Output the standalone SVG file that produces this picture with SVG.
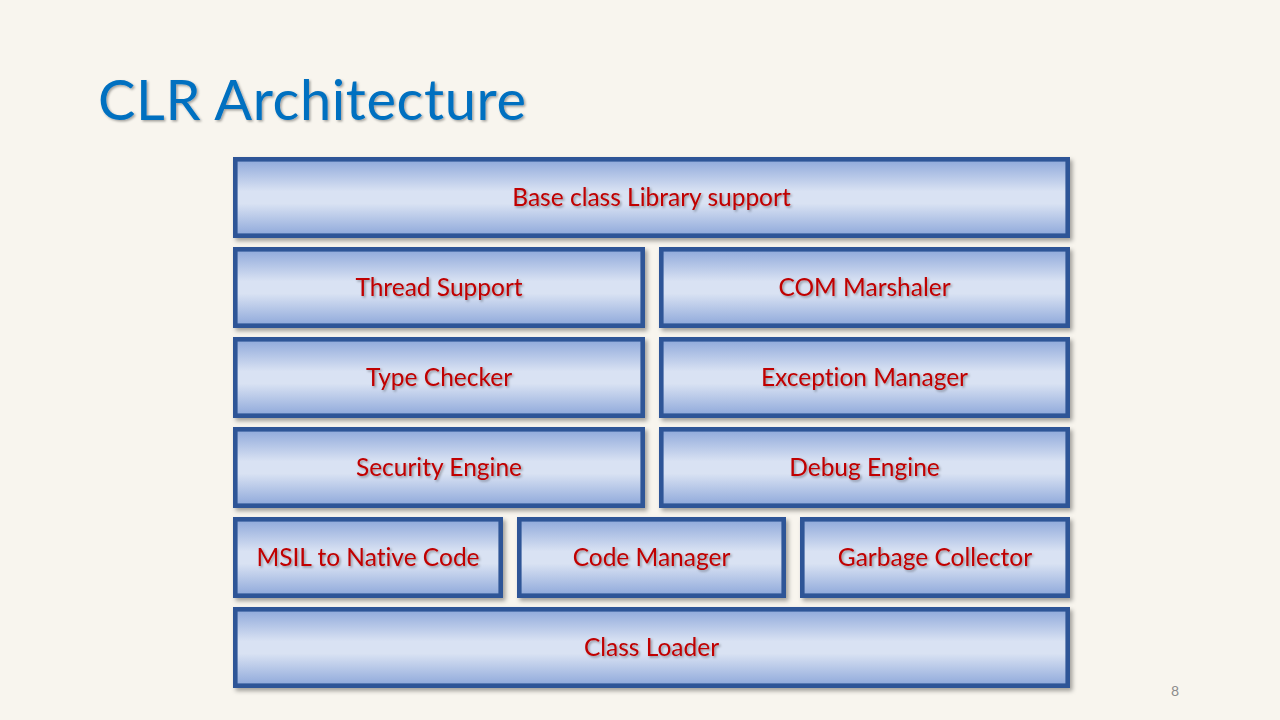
<svg xmlns="http://www.w3.org/2000/svg" width="1280" height="720" viewBox="0 0 1280 720">
<defs>
<linearGradient id="fill" x1="0" y1="0" x2="0" y2="1">
<stop offset="0" stop-color="#8EA8DA"/>
<stop offset="0.42" stop-color="#D9E2F3"/>
<stop offset="0.58" stop-color="#D9E2F3"/>
<stop offset="1" stop-color="#8EA8DA"/>
</linearGradient>
<filter id="sh" x="-5%" y="-10%" width="112%" height="130%">
<feDropShadow dx="2.5" dy="3" stdDeviation="2" flood-color="#000" flood-opacity="0.35"/>
</filter>
<filter id="tsh" x="-5%" y="-20%" width="115%" height="150%">
<feDropShadow dx="1.5" dy="1.5" stdDeviation="0.8" flood-color="#000" flood-opacity="0.35"/>
</filter>
</defs>
<style>
.box{fill:url(#fill);stroke:#2F5597;stroke-width:4.6;filter:url(#sh)}
.lbl{font-family:Lato,"Liberation Sans",sans-serif;font-size:24.5px;fill:#C00000;text-anchor:middle;filter:url(#tsh);font-variant-ligatures:none}
.title{font-family:Lato,"Liberation Sans",sans-serif;font-size:56px;fill:#0070C0;filter:url(#tsh);font-variant-ligatures:none}
.pg{font-family:Lato,"Liberation Sans",sans-serif;font-size:14px;fill:#8C8C8C;text-anchor:middle}
</style>
<rect x="0" y="0" width="1280" height="720" fill="#F8F5EE"/>
<text class="title" x="98" y="120" textLength="428" lengthAdjust="spacing">CLR Architecture</text>
<g id="base-class-library">
<rect class="box" x="235.3" y="159.3" width="832.4" height="76.4"/>
<text class="lbl" x="651.5" y="206">Base class Library support</text>
</g>
<g id="thread-support">
<rect class="box" x="235.3" y="249.3" width="407.4" height="76.4"/>
<text class="lbl" x="439" y="296">Thread Support</text>
</g>
<g id="com-marshaler">
<rect class="box" x="661.3" y="249.3" width="406.4" height="76.4"/>
<text class="lbl" x="864.5" y="296">COM Marshaler</text>
</g>
<g id="type-checker">
<rect class="box" x="235.3" y="339.3" width="407.4" height="76.4"/>
<text class="lbl" x="439" y="386">Type Checker</text>
</g>
<g id="exception-manager">
<rect class="box" x="661.3" y="339.3" width="406.4" height="76.4"/>
<text class="lbl" x="864.5" y="386">Exception Manager</text>
</g>
<g id="security-engine">
<rect class="box" x="235.3" y="429.3" width="407.4" height="76.4"/>
<text class="lbl" x="439" y="476">Security Engine</text>
</g>
<g id="debug-engine">
<rect class="box" x="661.3" y="429.3" width="406.4" height="76.4"/>
<text class="lbl" x="864.5" y="476">Debug Engine</text>
</g>
<g id="msil-to-native">
<rect class="box" x="235.3" y="519.3" width="265.4" height="76.4"/>
<text class="lbl" x="368" y="566">MSIL to Native Code</text>
</g>
<g id="code-manager">
<rect class="box" x="519.3" y="519.3" width="264.4" height="76.4"/>
<text class="lbl" x="651.5" y="566">Code Manager</text>
</g>
<g id="garbage-collector">
<rect class="box" x="802.3" y="519.3" width="265.4" height="76.4"/>
<text class="lbl" x="935" y="566">Garbage Collector</text>
</g>
<g id="class-loader">
<rect class="box" x="235.3" y="609.3" width="832.4" height="76.4"/>
<text class="lbl" x="651.5" y="656">Class Loader</text>
</g>
<g id="connectors"/>
<text class="pg" x="1175" y="696">8</text>
</svg>
